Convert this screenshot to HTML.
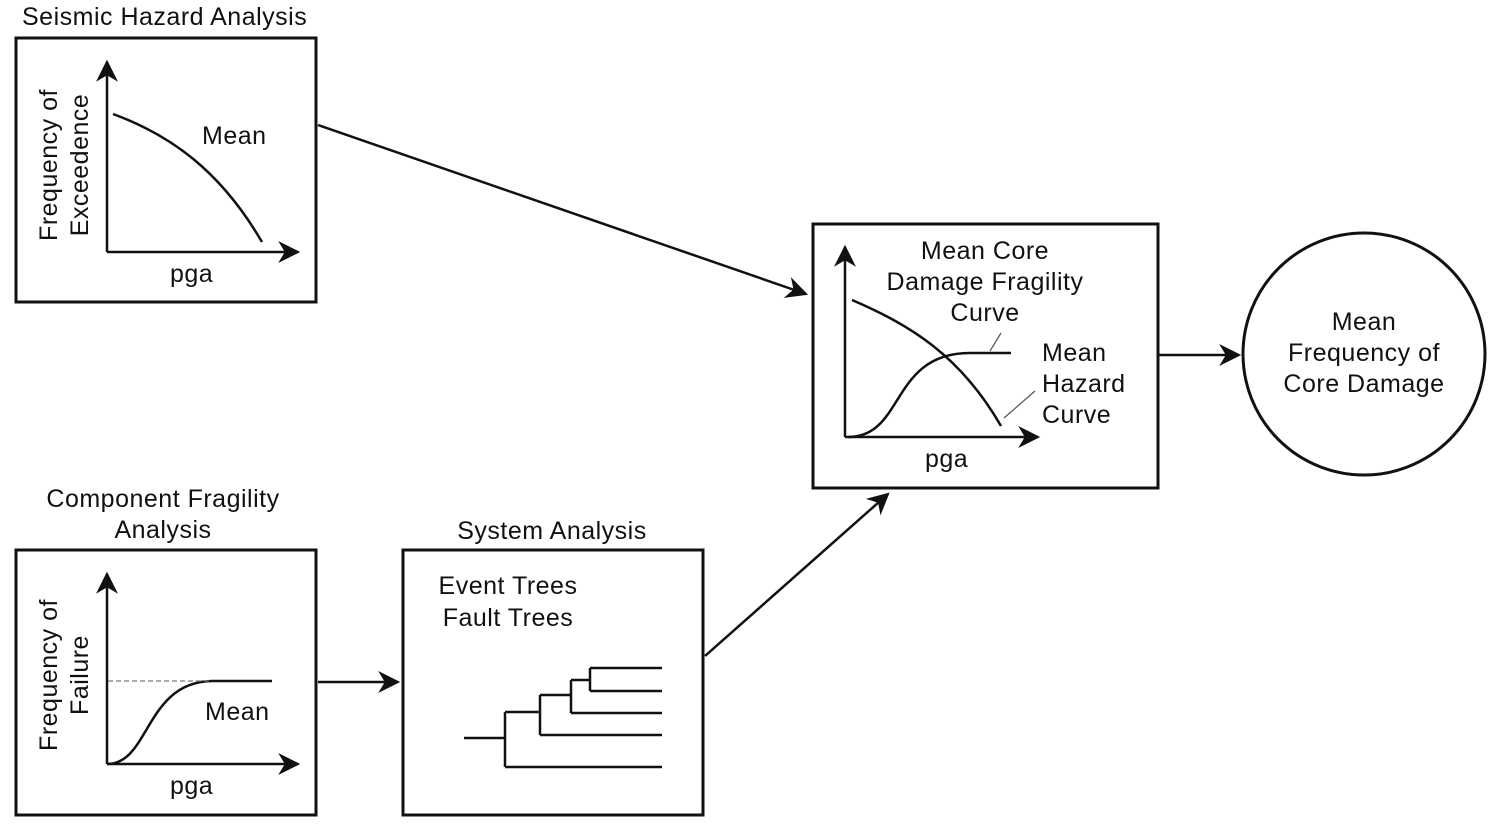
<!DOCTYPE html>
<html><head><style>
body{margin:0;background:#fff;}
svg text{font-family:"Liberation Sans",sans-serif;fill:#111;}
</style></head><body>
<svg width="1500" height="828" viewBox="0 0 1500 828" xmlns="http://www.w3.org/2000/svg">
<defs>
<marker id="b" viewBox="0 0 10 10" refX="9" refY="5" markerWidth="26" markerHeight="22" markerUnits="userSpaceOnUse" orient="auto"><path d="M0,0 L10,5 L0,10 L3,5z" fill="#111"/></marker>
</defs>
<g stroke="#111" fill="none" stroke-width="3">
<rect x="16" y="38" width="300" height="264"/>
<rect x="16" y="550" width="300" height="265"/>
<rect x="403" y="550" width="300" height="265"/>
<rect x="813" y="224" width="345" height="264"/>
<circle cx="1364" cy="354" r="121"/>
</g>
<g stroke="#111" fill="none" stroke-width="2.5">
<path d="M107,252 V62" marker-end="url(#b)"/>
<path d="M107,252 H298" marker-end="url(#b)"/>
<path d="M113,114 C170,135 220,170 262,242"/>
<path d="M107,764 V574" marker-end="url(#b)"/>
<path d="M107,764 H298" marker-end="url(#b)"/>
<path d="M107,764 C150,764 145,682 212,681 H272"/>
<path d="M845,437 V247" marker-end="url(#b)"/>
<path d="M845,437 H1038" marker-end="url(#b)"/>
<path d="M852,300 C910,325 960,355 1001,426"/>
<path d="M848,437 C905,437 890,353 970,353 H1011"/>
<path d="M464,738 H505 M505,712 V767 M505,712 H540 M505,767 H662 M540,695 V735 M540,695 H571 M540,735 H662 M571,680 V713 M571,680 H590 M571,713 H662 M590,668 V691 M590,668 H662 M590,691 H662"/>
<path d="M318,125 L806,294" marker-end="url(#b)"/>
<path d="M318,682 L398,682" marker-end="url(#b)"/>
<path d="M705,656 L888,494" marker-end="url(#b)"/>
<path d="M1158,355 L1239,355" marker-end="url(#b)"/>
</g>
<path d="M108,681 H212" stroke="#777" stroke-width="1.2" stroke-dasharray="5,3" fill="none"/>
<path d="M990,351 L1001,333 M1004,418 L1035,391" stroke="#555" stroke-width="1.2" fill="none"/>
<g font-size="25" letter-spacing="0.5">
<text x="22" y="25">Seismic Hazard Analysis</text>
<text x="202" y="144">Mean</text>
<text x="170" y="282">pga</text>
<text transform="translate(57,165) rotate(-90)" text-anchor="middle">Frequency of</text>
<text transform="translate(88,165) rotate(-90)" text-anchor="middle">Exceedence</text>
<text x="163" y="507" text-anchor="middle">Component Fragility</text>
<text x="163" y="538" text-anchor="middle">Analysis</text>
<text transform="translate(57,675) rotate(-90)" text-anchor="middle">Frequency of</text>
<text transform="translate(88,675) rotate(-90)" text-anchor="middle">Failure</text>
<text x="205" y="720">Mean</text>
<text x="170" y="794">pga</text>
<text x="552" y="539" text-anchor="middle">System Analysis</text>
<text x="508" y="594" text-anchor="middle">Event Trees</text>
<text x="508" y="626" text-anchor="middle">Fault Trees</text>
<text x="985" y="259" text-anchor="middle">Mean Core</text>
<text x="985" y="290" text-anchor="middle">Damage Fragility</text>
<text x="985" y="321" text-anchor="middle">Curve</text>
<text x="1042" y="361">Mean</text>
<text x="1042" y="392">Hazard</text>
<text x="1042" y="423">Curve</text>
<text x="925" y="467">pga</text>
<text x="1364" y="330" text-anchor="middle">Mean</text>
<text x="1364" y="361" text-anchor="middle">Frequency of</text>
<text x="1364" y="392" text-anchor="middle">Core Damage</text>
</g>
</svg>
</body></html>
